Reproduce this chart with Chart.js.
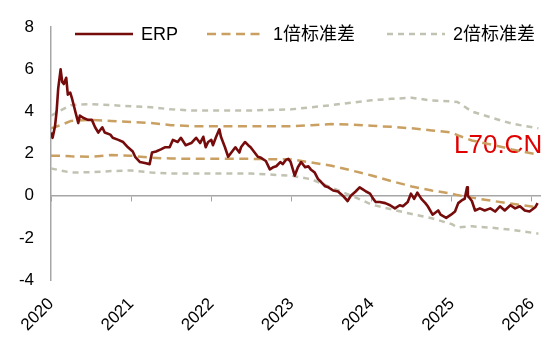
<!DOCTYPE html>
<html><head><meta charset="utf-8">
<script src="https://cdn.jsdelivr.net/npm/chart.js@4.4.1/dist/chart.umd.min.js"></script>
<style>html,body{margin:0;padding:0;background:#fff}#wrap{width:550px;height:348px;position:relative}</style>
</head><body><div id="wrap"><canvas id="c" width="550" height="348"></canvas></div>
<script>
const seriesNames = ['ERP', '1倍标准差', '2倍标准差'];
const watermark = 'L70.CN';
const yearTicks = [2020, 2021, 2022, 2023, 2024, 2025, 2026];
const yTicks = [-4, -2, 0, 2, 4, 6, 8];

const erpYears = [
 2020.00,2020.02,2020.05,2020.07,2020.09,2020.12,2020.14,2020.16,2020.19,2020.21,2020.24,2020.26,2020.29,2020.31,2020.34,2020.36,2020.40,2020.46,2020.51,2020.55,2020.59,2020.64,2020.67,2020.74,2020.77,2020.84,2020.90,2020.96,
 2021.02,2021.05,2021.11,2021.17,2021.23,2021.26,2021.31,2021.37,2021.42,2021.48,2021.52,2021.58,2021.62,2021.68,2021.75,2021.81,2021.86,2021.90,2021.93,2021.96,
 2022.00,2022.02,2022.06,2022.10,2022.12,2022.17,2022.21,2022.25,2022.30,2022.35,2022.37,2022.42,2022.46,2022.49,2022.54,2022.58,2022.62,2022.68,2022.73,2022.77,2022.81,2022.86,2022.89,2022.93,2022.96,2022.99,
 2023.04,2023.08,2023.12,2023.17,2023.21,2023.24,2023.29,2023.33,2023.37,2023.42,2023.46,2023.52,2023.58,2023.64,2023.70,2023.74,2023.80,2023.85,2023.89,2023.93,2023.98,
 2024.02,2024.05,2024.10,2024.17,2024.23,2024.29,2024.35,2024.39,2024.45,2024.49,2024.53,2024.57,2024.62,2024.67,2024.70,2024.76,2024.83,2024.86,2024.93,2024.99,
 2025.04,2025.08,2025.13,2025.16,2025.19,2025.20,2025.25,2025.29,2025.35,2025.41,2025.48,2025.54,2025.60,2025.66,2025.73,2025.79,2025.85,2025.91,2025.97,2026.04,2026.07
];
const erpValues = [
 3.0,2.75,3.3,4.0,5.1,6.0,5.4,5.3,5.6,4.8,4.9,4.65,4.2,3.9,3.45,3.8,3.7,3.6,3.6,3.25,3.0,3.25,3.0,2.9,2.75,2.65,2.55,2.3,
 2.1,1.85,1.6,1.55,1.5,2.05,2.1,2.2,2.3,2.3,2.65,2.55,2.75,2.4,2.5,2.75,2.5,2.8,2.3,2.55,
 2.65,2.4,2.8,3.15,2.8,2.3,1.85,2.05,2.3,2.05,2.3,2.55,2.4,2.3,2.05,1.85,1.8,1.65,1.25,1.35,1.4,1.6,1.5,1.7,1.75,1.6,
 0.95,1.35,1.6,1.35,1.4,1.25,1.1,0.8,0.65,0.45,0.4,0.25,0.2,0.0,-0.25,0.0,0.2,0.4,0.3,0.2,0.1,
 -0.15,-0.3,-0.3,-0.35,-0.45,-0.6,-0.45,-0.5,-0.3,0.1,-0.15,0.15,-0.15,-0.35,-0.5,-0.9,-0.7,-0.9,-1.05,-0.9,
 -0.75,-0.35,-0.2,-0.15,0.4,0.0,-0.25,-0.7,-0.6,-0.7,-0.6,-0.75,-0.5,-0.7,-0.45,-0.6,-0.5,-0.7,-0.75,-0.55,-0.35
];

const bandYears = [2020.00,2020.12,2020.25,2020.50,2020.75,2021.00,2021.25,2021.50,2021.75,2022.00,2022.50,2023.00,2023.25,2023.50,2023.75,2024.00,2024.25,2024.50,2024.75,2025.00,2025.07,2025.25,2025.50,2025.75,2026.08];
const sd1Upper = [3.2,3.35,3.55,3.6,3.55,3.5,3.45,3.35,3.3,3.3,3.3,3.3,3.35,3.4,3.38,3.32,3.27,3.2,3.1,3.0,2.88,2.62,2.42,2.2,1.95];
const sd1Lower = [1.9,1.9,1.87,1.85,1.93,1.9,1.8,1.77,1.75,1.75,1.75,1.72,1.58,1.42,1.2,0.96,0.69,0.44,0.25,0.1,0.03,-0.09,-0.24,-0.38,-0.55];
const sd2Upper = [3.8,4.05,4.3,4.35,4.3,4.25,4.2,4.1,4.05,4.05,4.05,4.1,4.2,4.3,4.42,4.53,4.6,4.65,4.52,4.48,4.45,4.0,3.7,3.42,3.2];
const sd2Lower = [1.3,1.2,1.1,1.12,1.17,1.2,1.1,1.05,1.05,1.05,1.05,0.95,0.78,0.38,0.0,-0.42,-0.65,-0.87,-1.07,-1.35,-1.5,-1.45,-1.52,-1.62,-1.8];

const FONT = "'Liberation Sans', Arial, 'Noto Sans CJK SC', sans-serif";
const ERP_COLOR = '#760B0B';
const SD1_COLOR = '#C9A062';
const SD2_COLOR = '#C2C2B2';
const AXIS_COLOR = '#A6A6A6';

const pts = (xs, ys) => xs.map((x, i) => ({x, y: ys[i]}));

const legendPlugin = {
  id: 'customLegend',
  afterDraw(chart) {
    const ctx = chart.ctx;
    const items = [{ds: 0, x: 75}, {ds: 1, x: 207}, {ds: 3, x: 387}];
    ctx.save();
    ctx.font = '18px ' + FONT;
    ctx.textBaseline = 'middle';
    items.forEach(it => {
      const ds = chart.data.datasets[it.ds];
      ctx.beginPath();
      ctx.setLineDash(ds.borderDash || []);
      ctx.strokeStyle = ds.borderColor;
      ctx.lineWidth = ds.borderWidth;
      ctx.moveTo(it.x, 34); ctx.lineTo(it.x + 58, 34);
      ctx.stroke();
      ctx.setLineDash([]);
      ctx.fillStyle = '#000';
      ctx.fillText(ds.label, it.x + 66, 35);
    });
    ctx.restore();
  }
};
const markPlugin = {
  id: 'mark',
  beforeDatasetsDraw(chart) {
    const ctx = chart.ctx;
    ctx.save();
    ctx.font = '26px ' + FONT;
    ctx.fillStyle = '#E00000';
    ctx.textBaseline = 'alphabetic';
    ctx.fillText(watermark, 454, 153);
    ctx.restore();
  }
};

new Chart(document.getElementById('c'), {
  type: 'line',
  data: {
    datasets: [
      {label: seriesNames[0], data: pts(erpYears, erpValues), borderColor: ERP_COLOR, borderWidth: 2.6},
      {label: seriesNames[1], data: pts(bandYears, sd1Upper), borderColor: SD1_COLOR, borderWidth: 2.5, borderDash: [9, 5.5]},
      {label: seriesNames[1], data: pts(bandYears, sd1Lower), borderColor: SD1_COLOR, borderWidth: 2.5, borderDash: [9, 5.5]},
      {label: seriesNames[2], data: pts(bandYears, sd2Upper), borderColor: SD2_COLOR, borderWidth: 2.5, borderDash: [6, 5]},
      {label: seriesNames[2], data: pts(bandYears, sd2Lower), borderColor: SD2_COLOR, borderWidth: 2.5, borderDash: [6, 5]}
    ]
  },
  options: {
    responsive: false,
    animation: false,
    events: [],
    elements: {point: {radius: 0}, line: {tension: 0, fill: false, borderJoinStyle: 'round'}},
    layout: {padding: {top: 20, right: 10, left: 0, bottom: 0}},
    plugins: {legend: {display: false}, tooltip: {enabled: false}},
    scales: {
      x: {
        type: 'linear', min: 2020, max: 2026.1, position: 'bottom',
        afterBuildTicks: s => { s.ticks = yearTicks.map(v => ({value: v})); },
        afterFit: s => { s.height = 68; s.paddingRight = 0; s.paddingLeft = 0; },
        grid: {display: false, drawTicks: false},
        border: {display: false},
        ticks: {minRotation: 45, maxRotation: 45, padding: 14, color: '#000', font: {size: 17, family: FONT},
          callback: v => String(v)}
      },
      x0: {
        type: 'linear', min: 2020, max: 2026.1, position: {y: 0},
        afterBuildTicks: s => { s.ticks = yearTicks.map(v => ({value: v})); },
        afterFit: s => { s.paddingRight = 0; s.paddingLeft = 0; },
        grid: {display: true, drawOnChartArea: false, drawTicks: true, tickLength: 5, color: AXIS_COLOR, lineWidth: 1},
        border: {display: true, color: AXIS_COLOR, width: 1.5},
        ticks: {display: false}
      },
      y: {
        type: 'linear', min: -4, max: 8,
        afterBuildTicks: s => { s.ticks = yTicks.map(v => ({value: v})); },
        afterFit: s => { s.width = 51; },
        grid: {display: false, drawTicks: false},
        border: {display: true, color: AXIS_COLOR, width: 1.5},
        ticks: {padding: 17, color: '#000', font: {size: 17, family: FONT}}
      }
    }
  },
  plugins: [markPlugin, legendPlugin]
});
</script>
</body></html>
